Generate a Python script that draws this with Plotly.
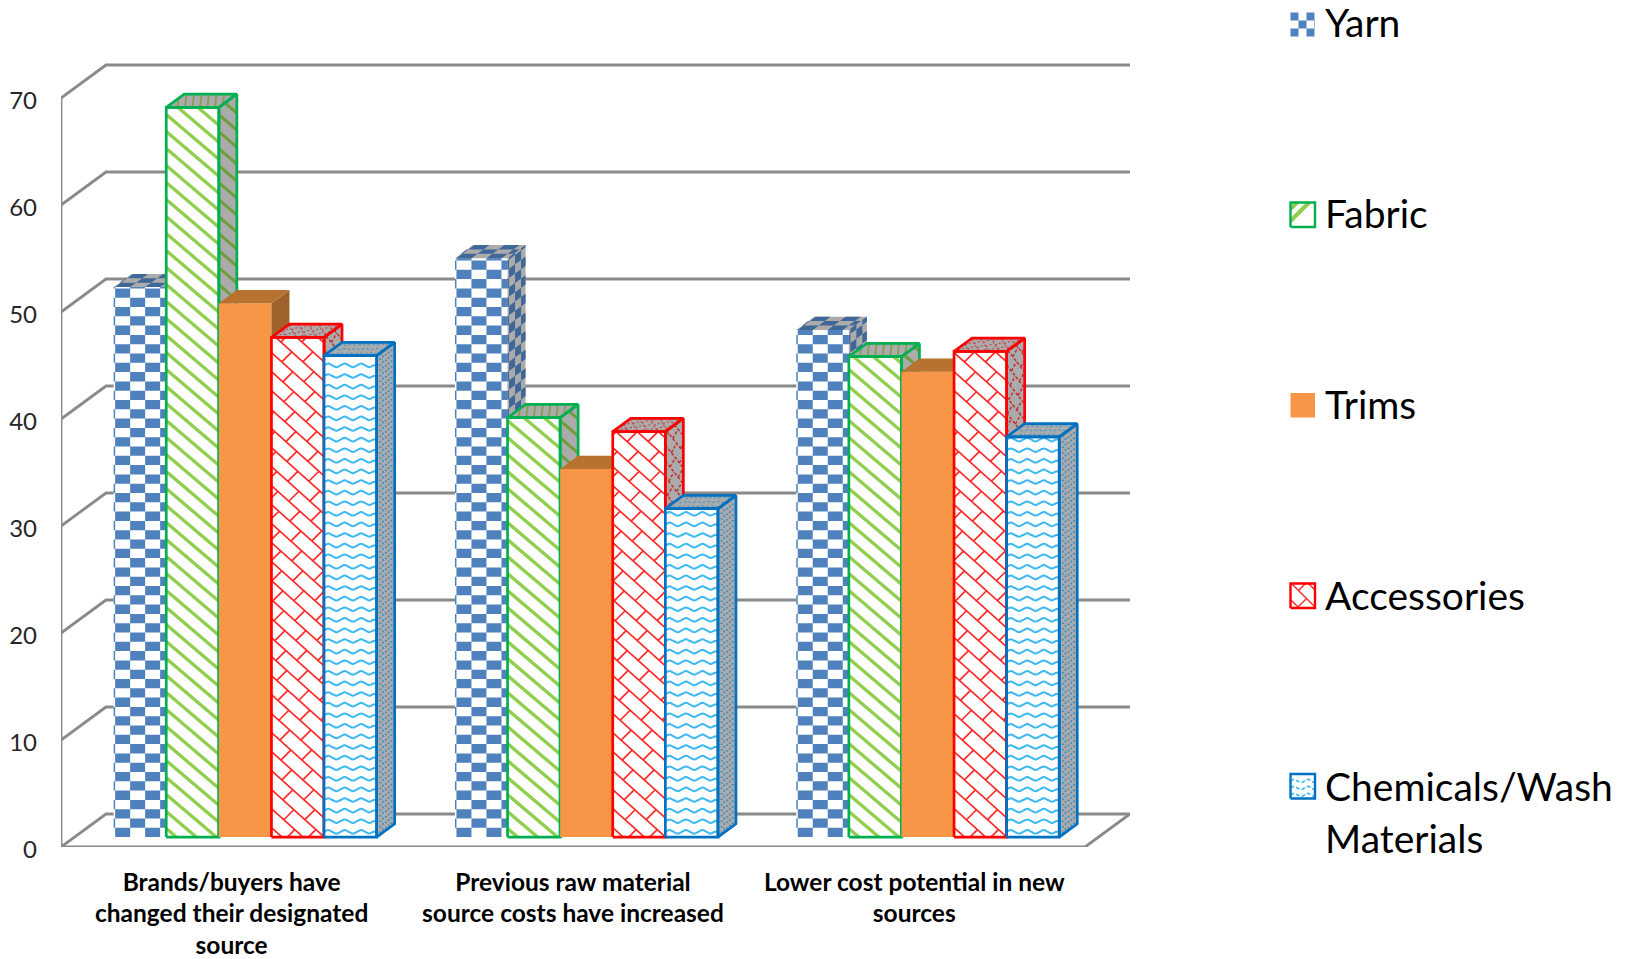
import plotly.graph_objects as go

categories = [
    "Brands/buyers have<br>changed their designated<br>source",
    "Previous raw material<br>source costs have increased",
    "Lower cost potential in new<br>sources",
]
yarn = [51.4, 54.1, 47.4]
fabric = [68.2, 39.2, 44.9]
trims = [49.9, 34.4, 43.5]
accessories = [46.7, 37.9, 45.4]
chemicals = [45.0, 30.7, 37.4]
y_ticks = [0, 10, 20, 30, 40, 50, 60, 70]
series_names = ["Yarn", "Fabric", "Trims", "Accessories", "Chemicals/Wash Materials"]
series_values = [yarn, fabric, trims, accessories, chemicals]

FIG_W, FIG_H = 1629, 959
PLOT_L, PLOT_R, PLOT_T, PLOT_B = 61, 1130, 60, 847
PX_PER_CAT = 341.3
PX_PER_UNIT = 10.7
SX, SY = 1 / PX_PER_CAT, 1 / PX_PER_UNIT

# Depth of the box, as a shift of the back wall relative to the front plane
BOX_DX, BOX_DY = 45.0, 33.0
BAR_NEAR, BAR_FAR = 0.30, 0.70
BAR_W = 52.6
GRID = "#8A8A8A"
FACE_GRAY = "#ABABAB"
FONT = "Lato, Carlito, Calibri, sans-serif"

X_RANGE = [-0.5, -0.5 + (PLOT_R - PLOT_L) / PX_PER_CAT]
Y_RANGE = [0, (PLOT_B - PLOT_T) / PX_PER_UNIT]


def clip_segment(p, q, W, H):
    """Liang-Barsky clip of segment p-q to the rectangle [0,W]x[0,H]."""
    t0, t1 = 0.0, 1.0
    dx, dy = q[0] - p[0], q[1] - p[1]
    for a, b in ((-dx, p[0]), (dx, W - p[0]), (-dy, p[1]), (dy, H - p[1])):
        if a == 0:
            if b < 0:
                return None
        else:
            t = b / a
            if a < 0:
                t0 = max(t0, t)
            else:
                t1 = min(t1, t)
    if t0 >= t1:
        return None
    return ((p[0] + t0 * dx, p[1] + t0 * dy), (p[0] + t1 * dx, p[1] + t1 * dy))


def checks(W, H, cu, cv, phase=1.5):
    polys = []
    i = -1
    while (i * cu + phase) < W:
        j = 0
        while j * cv < H:
            if (i + j) % 2 == 0:
                u0, u1 = max(0, i * cu + phase), min(W, (i + 1) * cu + phase)
                v0, v1 = j * cv, min(H, (j + 1) * cv)
                if u1 > u0:
                    polys.append([(u0, v0), (u1, v0), (u1, v1), (u0, v1), (u0, v0)])
            j += 1
        i += 1
    return polys


def diagonal_offsets(W, H, slope, gap):
    low = min(0, slope * W * -1) + gap * 0.5 if slope < 0 else gap * 0.5
    high = H + max(0, slope * W) + gap
    out = []
    c = low
    while c < high:
        out.append(c)
        c += gap
    return out


def diagonals(W, H, slope, gap):
    segs = []
    for c in diagonal_offsets(W, H, slope, gap):
        s = clip_segment((0, c), (W, c - slope * W), W, H)
        if s:
            segs.append(list(s))
    return segs


def bricks(W, H, slope, gap, period):
    segs = diagonals(W, H, slope, gap)
    rise = 1.0
    run = gap / (rise + slope)
    for k, c in enumerate(diagonal_offsets(W, H, slope, gap)):
        # Successive courses are staggered by half a brick along the diagonal
        start = -2 * period + (k * (run + period / 2)) % period
        u = start - W
        while u < W + period:
            a = (u, c - slope * u)
            b = (u + run, a[1] + rise * run)
            s = clip_segment(a, b, W, H)
            if s:
                segs.append(list(s))
            u += period
    return segs


def waves(W, H, period, amp, gap):
    lines = []
    v = gap * 0.5
    quarter = period / 4
    while v < H:
        pts = []
        n = 0
        while n * quarter <= W:
            pts.append((n * quarter, v + amp * (0, 1, 0, -1)[n % 4]))
            n += 1
        pts.append((W, v))
        lines.append(pts)
        v += gap
    return lines


class Face:
    """A parallelogram of the box: origin in axis units, edge directions in pixels."""

    def __init__(self, ox, oy, eu, ev, W, H, sx=SX, sy=SY):
        self.ox, self.oy, self.eu, self.ev, self.W, self.H = ox, oy, eu, ev, W, H
        self.sx, self.sy = sx, sy

    def map(self, u, v):
        return (
            self.ox + (u * self.eu[0] + v * self.ev[0]) * self.sx,
            self.oy + (u * self.eu[1] + v * self.ev[1]) * self.sy,
        )

    def outline(self):
        W, H = self.W, self.H
        return [(0, 0), (W, 0), (W, H), (0, H), (0, 0)]


def add_paths(xs, ys, face, paths):
    for path in paths:
        for u, v in path:
            x, y = face.map(u, v)
            xs.append(x)
            ys.append(y)
        xs.append(None)
        ys.append(None)


def fill_trace(faces_paths, color, xa, ya):
    xs, ys = [], []
    for face, paths in faces_paths:
        add_paths(xs, ys, face, paths)
    return go.Scatter(x=xs, y=ys, xaxis=xa, yaxis=ya, mode="lines", line=dict(width=0, color=color),
                      fill="toself", fillcolor=color, hoverinfo="skip", showlegend=False, cliponaxis=False)


def line_trace(faces_paths, color, width, xa, ya, shape="linear", dash="solid"):
    xs, ys = [], []
    for face, paths in faces_paths:
        add_paths(xs, ys, face, paths)
    return go.Scatter(x=xs, y=ys, xaxis=xa, yaxis=ya, mode="lines",
                      line=dict(width=width, color=color, shape=shape, dash=dash),
                      hoverinfo="skip", showlegend=False, cliponaxis=False)


# Per-series appearance: front fill, border, and the texture of each face
STYLES = [
    dict(front="#FFFFFF", border=None, kind="checks", ink="#4F81BD", shade="#3F6797", top_shade="#3F6797", bg=FACE_GRAY),
    dict(front="#FFFFFF", border="#00B050", kind="stripes", ink="#8FCF4D", shade="#6E9E3C", top_shade="#86A05A", bg=FACE_GRAY),
    dict(front="#F79646", border=None, kind=None, ink=None, shade=None, top="#B8722F", side="#A0622B"),
    dict(front="#FFFFFF", border="#FF0000", kind="bricks", ink="#FF2A2A", shade="#C5262B", top_shade="#C9484C", bg=FACE_GRAY),
    dict(front="#FFFFFF", border="#0070C0", kind="waves", ink="#3DB8F2", shade="#3F8FC4", top_shade="#5A9CC8", bg=FACE_GRAY),
]


def texture(style, which, W, H):
    """Return (mode, paths, line width, line shape, dash) for one face of a bar."""
    kind = style["kind"]
    if kind == "checks":
        cu, cv = {"front": (15, 9.3), "side": (6, 9.3), "top": (15, 4.4)}[which]
        return "fill", checks(W, H, cu, cv), 0, "linear", "solid"
    if kind == "stripes":
        slope, gap, width = {"front": (0.85, 17, 3.3), "side": (1.6, 17, 3), "top": (0.8, 6, 2)}[which]
        return "line", diagonals(W, H, slope, gap), width, "linear", "solid"
    if kind == "bricks":
        slope, gap, period, width, dash = {"front": (0.9, 19, 22, 1.7, "solid"),
                                           "side": (2.0, 16, 8, 1.4, "3px,2px"),
                                           "top": (0.5, 5, 8, 1.2, "2px,2px")}[which]
        return "line", bricks(W, H, slope, gap, period), width, "linear", dash
    if kind == "waves":
        period, amp, gap, width, dash = {"front": (16.5, 1.8, 10.6, 2, "solid"),
                                         "side": (6, 1.2, 5.5, 1.6, "2px,2px"),
                                         "top": (10, 0.8, 4.4, 1.4, "3px,2px")}[which]
        return "line", waves(W, H, period, amp, gap), width, "spline", dash
    return None, [], 0, "linear", "solid"


def add_textured(fig, faces, which, style, color, xa, ya):
    fills, lines = [], []
    width, shape, dash = 1, "linear", "solid"
    for face in faces:
        mode, paths, w, shape, dash = texture(style, which, face.W, face.H)
        if mode == "fill":
            fills.append((face, paths))
        elif mode == "line":
            lines.append((face, paths))
            width = w
    if fills:
        fig.add_trace(fill_trace(fills, color, xa, ya))
    if lines:
        fig.add_trace(line_trace(lines, color, width, xa, ya, shape=shape, dash=dash))


fig = go.Figure()

# Box walls: each gridline runs from the front plane to the back wall and across it
back_dx, back_dy = BOX_DX * SX, BOX_DY * SY
grid_x, grid_y = [], []
for t in y_ticks:
    grid_x += [X_RANGE[0], X_RANGE[0] + back_dx, X_RANGE[1], None]
    grid_y += [t, t + back_dy, t + back_dy, None]
grid_x += [X_RANGE[0], X_RANGE[0], None, X_RANGE[0], X_RANGE[1] - back_dx, X_RANGE[1]]
grid_y += [y_ticks[0], y_ticks[-1], None, 0, 0, back_dy]
fig.add_trace(go.Scatter(x=grid_x, y=grid_y, mode="lines", line=dict(color=GRID, width=2.8),
                         hoverinfo="skip", showlegend=False, cliponaxis=False))

bar_w_cat = BAR_W * SX
shift = BAR_NEAR * back_dx
lift = BAR_NEAR * back_dy
face_dx = (BAR_FAR - BAR_NEAR) * BOX_DX
face_dy = (BAR_FAR - BAR_NEAR) * BOX_DY
cat_pos = list(range(len(categories)))

# Series are stacked on overlaid axes so that each one paints over the one before it
for s, (name, values, style) in enumerate(zip(series_names, series_values, STYLES)):
    n = s + 2
    xa, ya = f"x{n}", f"y{n}"
    offset = (s - 2.5) * bar_w_cat
    fig.add_trace(go.Bar(
        x=[c + shift for c in cat_pos], y=values, base=[lift] * len(values),
        width=bar_w_cat, offset=offset, name=name, xaxis=xa, yaxis=ya, showlegend=False,
        marker=dict(color=style["front"], line=dict(width=0)),
    ))
    fronts, sides, tops = [], [], []
    for c, v in zip(cat_pos, values):
        x_left = c + shift + offset
        h_px = v * PX_PER_UNIT
        fronts.append(Face(x_left, lift, (1, 0), (0, 1), BAR_W, h_px))
        sides.append(Face(x_left + bar_w_cat, lift, (1, face_dy / face_dx), (0, 1), face_dx, h_px))
        tops.append(Face(x_left, lift + v, (1, 0), (face_dx / face_dy, 1), BAR_W, face_dy))

    if style["kind"] is None:
        fig.add_trace(fill_trace([(f, [f.outline()]) for f in sides], style["side"], xa, ya))
        fig.add_trace(fill_trace([(f, [f.outline()]) for f in tops], style["top"], xa, ya))
        continue

    fig.add_trace(fill_trace([(f, [f.outline()]) for f in sides + tops], style["bg"], xa, ya))
    add_textured(fig, fronts, "front", style, style["ink"], xa, ya)
    add_textured(fig, sides, "side", style, style["shade"], xa, ya)
    add_textured(fig, tops, "top", style, style["top_shade"], xa, ya)
    if style["border"]:
        fig.add_trace(line_trace([(f, [f.outline()]) for f in fronts + sides + tops],
                                 style["border"], 2.7, xa, ya))

# Key on the right, drawn in its own pixel-scaled subplot
KEY_X0, KEY_SIZE = 1290.5, 24.5
key_tops = [12, 202.5, 393, 583.5, 774]
label_ys = [22, 213, 404, 595, 786]
key_xa, key_ya = "x7", "y7"
for s, (style, top) in enumerate(zip(STYLES, key_tops)):
    face = Face(KEY_X0, FIG_H - top - KEY_SIZE, (1, 0), (0, 1), KEY_SIZE, KEY_SIZE, sx=1, sy=1)
    fig.add_trace(fill_trace([(face, [face.outline()])], style["front"], key_xa, key_ya))
    if style["kind"] == "checks":
        fig.add_trace(fill_trace([(face, checks(KEY_SIZE, KEY_SIZE, 8, 8, 0))], style["ink"], key_xa, key_ya))
    elif style["kind"] == "stripes":
        fig.add_trace(line_trace([(face, diagonals(KEY_SIZE, KEY_SIZE, -1, 12))], style["ink"], 4, key_xa, key_ya))
    elif style["kind"] == "bricks":
        fig.add_trace(line_trace([(face, bricks(KEY_SIZE, KEY_SIZE, 1, 17, 16))], style["ink"], 1.5, key_xa, key_ya))
    elif style["kind"] == "waves":
        fig.add_trace(line_trace([(face, waves(KEY_SIZE, KEY_SIZE, 14, 1.6, 7))], style["ink"], 1.6,
                                 key_xa, key_ya, shape="spline", dash="4px,2px"))
    if style["border"]:
        fig.add_trace(line_trace([(face, [face.outline()])], style["border"], 2.4, key_xa, key_ya))

LEGEND_SIZE = 39
annotations = []
label_lines = [["Yarn"], ["Fabric"], ["Trims"], ["Accessories"], ["Chemicals/Wash", "Materials"]]
for lines, y in zip(label_lines, label_ys):
    for k, text in enumerate(lines):
        annotations.append(dict(
            text=text, x=1323 / FIG_W, y=1 - (y + 52 * k) / FIG_H, xref="paper", yref="paper",
            xanchor="left", yanchor="middle", showarrow=False,
            font=dict(family=FONT, size=LEGEND_SIZE, color="#000000"),
        ))

x_domain = [PLOT_L / FIG_W, PLOT_R / FIG_W]
y_domain = [(FIG_H - PLOT_B) / FIG_H, (FIG_H - PLOT_T) / FIG_H]
layout = dict(
    width=FIG_W, height=FIG_H, margin=dict(l=0, r=0, t=0, b=0),
    paper_bgcolor="white", plot_bgcolor="rgba(0,0,0,0)", template="none", showlegend=False,
    annotations=annotations, hovermode=False,
    xaxis=dict(domain=x_domain, range=X_RANGE, tickmode="array", tickvals=cat_pos, ticktext=categories,
               showgrid=False, zeroline=False, showline=False, ticks="", ticklabelstandoff=18,
               tickangle=0, tickfont=dict(family=FONT, size=24.5, color="#000000", weight="bold")),
    yaxis=dict(domain=y_domain, range=Y_RANGE, tickmode="array", tickvals=y_ticks,
               showgrid=False, zeroline=False, showline=False, ticks="", ticklabelstandoff=23,
               ticklabelshift=3, tickfont=dict(family=FONT, size=24, color="#262626")),
)
for n in range(2, 7):
    layout[f"xaxis{n}"] = dict(overlaying="x", matches="x", visible=False, domain=x_domain, anchor=f"y{n}")
    layout[f"yaxis{n}"] = dict(overlaying="y", matches="y", visible=False, domain=y_domain, anchor=f"x{n}")
layout["xaxis7"] = dict(domain=[1280 / FIG_W, 1], range=[1280, FIG_W], visible=False, anchor="y7")
layout["yaxis7"] = dict(domain=[0, 1], range=[0, FIG_H], visible=False, anchor="x7")
fig.update_layout(**layout)

fig.write_html("out.html")
